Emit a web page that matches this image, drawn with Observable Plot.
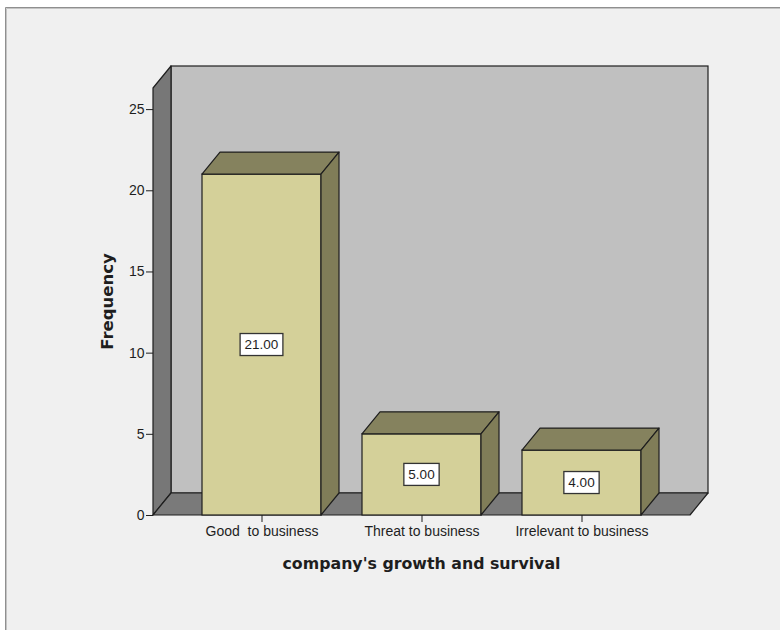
<!DOCTYPE html>
<html><head><meta charset="utf-8">
<script src="https://cdn.jsdelivr.net/npm/d3@7"></script>
<script src="https://cdn.jsdelivr.net/npm/@observablehq/plot@0.6"></script>
<style>
body{margin:0;background:#ffffff;}
#chart svg text{white-space:pre;}
</style></head><body><div id="chart"></div>
<script>
const categories = ["Good  to business", "Threat to business", "Irrelevant to business"];
const frequencies = [21, 5, 4];
const valueLabels = ["21.00", "5.00", "4.00"];
const yTicks = [0, 5, 10, 15, 20, 25];
const yMax = 26.3;
const xTitle = "company's growth and survival";
const yTitle = "Frequency";

const data = categories.map((c, i) => ({category: c, value: frequencies[i], label: valueLabels[i]}));

const INK = "#1e1e1e";
const chart = Plot.plot({
  width: 780, height: 630,
  marginLeft: 153, marginRight: 90, marginTop: 88, marginBottom: 115,
  style: {background: "transparent", fontFamily: "'Liberation Sans', Arial, sans-serif", fontSize: "14px", color: INK, overflow: "visible"},
  x: {domain: categories, paddingInner: 0.255, paddingOuter: 0.298, tickSize: 7, tickPadding: 4, label: null},
  y: {domain: [0, yMax], ticks: yTicks, tickSize: 7, tickPadding: 2, label: null},
  marks: [
    Plot.barY(data, {x: "category", y: "value", fill: "#d4d099", stroke: INK, strokeWidth: 1.2})
  ]
});
document.getElementById("chart").append(chart);

const sx = chart.scale("x"), sy = chart.scale("y");
const bw = sx.bandwidth;
const [L, R] = sx.range;
const y0 = sy.apply(0), yTop = sy.apply(sy.domain[1]);
const DX = 18, DY = 22;
const svg = d3.select(chart);

// background, window border, walls and floor (behind everything)
const bg = svg.insert("g", ":first-child");
bg.append("rect").attr("x", 5).attr("y", 7).attr("width", 800).attr("height", 640).attr("fill", "#f0f0f0");
bg.append("path").attr("d", "M5.5,640V7.5H790").attr("fill", "none").attr("stroke", "#8f8f8f");
bg.append("path").attr("d", "M6.5,640V8.5H790").attr("fill", "none").attr("stroke", "#c4c4c4");
bg.append("rect").attr("x", L + DX).attr("y", yTop - DY).attr("width", R - L).attr("height", y0 - yTop)
  .attr("fill", "#c0c0c0").attr("stroke", INK).attr("stroke-width", 1.2);
bg.append("path").attr("d", `M${L},${y0}V${yTop}L${L + DX},${yTop - DY}V${y0 - DY}Z`)
  .attr("fill", "#777777").attr("stroke", INK).attr("stroke-width", 1.2).attr("stroke-linejoin", "round");
bg.append("path").attr("d", `M${L},${y0}H${R}L${R + DX},${y0 - DY}H${L + DX}Z`)
  .attr("fill", "#7a7a7a").attr("stroke", INK).attr("stroke-width", 1.2).attr("stroke-linejoin", "round");

// 3D faces and value labels
const fg = svg.append("g");
data.forEach(d => {
  const x0 = sx.apply(d.category), x1 = x0 + bw, yv = sy.apply(d.value);
  fg.append("path").attr("d", `M${x0},${yv}L${x0 + DX},${yv - DY}H${x1 + DX}L${x1},${yv}Z`)
    .attr("fill", "#85825e").attr("stroke", INK).attr("stroke-width", 1.2).attr("stroke-linejoin", "round");
  fg.append("path").attr("d", `M${x1},${yv}L${x1 + DX},${yv - DY}V${y0 - DY}L${x1},${y0}Z`)
    .attr("fill", "#807d58").attr("stroke", INK).attr("stroke-width", 1.2).attr("stroke-linejoin", "round");
  const cx = x0 + bw / 2, cy = (yv + y0) / 2;
  const box = fg.append("rect");
  const t = fg.append("text").attr("x", cx).attr("y", cy).attr("dy", "0.36em")
    .attr("text-anchor", "middle").attr("font-size", 13.5).attr("fill", INK).text(d.label);
  const w = t.node().getComputedTextLength() + 9;
  box.attr("x", cx - w / 2).attr("y", cy - 11).attr("width", w).attr("height", 22)
    .attr("fill", "#ffffff").attr("stroke", "#333333").attr("stroke-width", 1.3);
});

// axis titles
svg.append("text").attr("x", (L + R) / 2).attr("y", y0 + 48).attr("dy", "0.36em")
  .attr("text-anchor", "middle").attr("font-family", "'DejaVu Sans', sans-serif")
  .attr("font-weight", "bold").attr("font-size", 15.8).attr("fill", INK).text(xTitle);
svg.append("text").attr("transform", `translate(107,${(y0 + yTop) / 2}) rotate(-90)`).attr("dy", "0.36em")
  .attr("text-anchor", "middle").attr("font-family", "'DejaVu Sans', sans-serif")
  .attr("font-weight", "bold").attr("font-size", 16.5).attr("fill", INK).text(yTitle);
</script></body></html>
